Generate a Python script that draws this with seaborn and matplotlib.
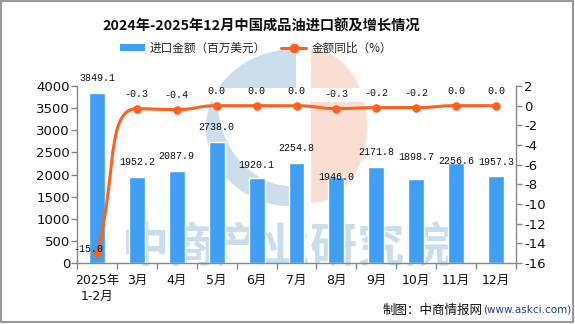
import numpy as np
import pandas as pd
import matplotlib
matplotlib.use("Agg")
import matplotlib.pyplot as plt
import seaborn as sns
from matplotlib.patches import Polygon, Rectangle
from matplotlib.lines import Line2D
from matplotlib.transforms import Affine2D

# ---------------- data ----------------
categories = ["2025年\n1-2月", "3月", "4月", "5月", "6月", "7月", "8月", "9月", "10月", "11月", "12月"]
import_value = [3849.1, 1952.2, 2087.9, 2738.0, 1920.1, 2254.8, 1946.0, 2171.8, 1898.7, 2256.6, 1957.3]
yoy_change = [-15.0, -0.3, -0.4, 0.0, 0.0, 0.0, -0.3, -0.2, -0.2, 0.0, 0.0]
left_ticks = [0, 500, 1000, 1500, 2000, 2500, 3000, 3500, 4000]
right_ticks = [-16, -14, -12, -10, -8, -6, -4, -2, 0, 2]

title = "2024年-2025年12月中国成品油进口额及增长情况"
bar_name = "进口金额（百万美元）"
line_name = "金额同比（%）"

BAR_C = "#409ef3"
LINE_C = "#ff5f1f"
W, H, DPI = 575, 324, 100

sns.set_theme(style="white")
plt.rcParams["font.family"] = ["DejaVu Sans", "Noto Sans CJK SC"]
plt.rcParams["axes.unicode_minus"] = True

fig = plt.figure(figsize=(W / DPI, H / DPI), dpi=DPI)
px = Affine2D().scale(1 / DPI, -1 / DPI).translate(0, H / DPI) + fig.dpi_scale_trans

# ---------------- watermark (behind) ----------------
def ell_x(y, cy, a, b):
    return a * np.sqrt(np.clip(1 - ((y - cy) / b) ** 2, 0, 1))

wm_blue = (0.80, 0.87, 0.92)
wm_sal = (0.98, 0.87, 0.83)
cx, cy, a, b = 296, 128, 90, 79
ys = np.linspace(cy - b, 88, 40)
top_blue = [(cx - ell_x(y, cy, a, b), y) for y in ys] + [(cx, 88), (cx, cy - b)]
ys2 = np.linspace(102, cy + b, 60)
hy = np.linspace(187, 102, 40)
bot_blue = [(cx - ell_x(y, cy, a, b), y) for y in ys2] + [(cx, cy + b), (cx, 187)] + \
           [(cx - ell_x(y, 102, 78, 85), y) for y in hy]
scx, scy, sa, sb = 311, 126, 56, 77
ys3 = np.linspace(scy - sb, 88, 40)
top_sal = [(scx, scy - sb)] + [(scx + ell_x(y, scy, sa, sb), y) for y in ys3] + [(scx, 88)]
ys4 = np.linspace(102, scy + sb, 60)
bot_sal = [(scx, 102)] + [(scx + ell_x(y, scy, sa, sb), y) for y in ys4] + [(scx, scy + sb)]
for poly, col in [(top_blue, wm_blue), (bot_blue, wm_blue), (top_sal, wm_sal), (bot_sal, wm_sal)]:
    fig.patches.append(Polygon(poly, closed=True, transform=px, facecolor=col,
                               edgecolor="none", zorder=-5))
fig.text(287, 247, "中商产业研究院", transform=px, ha="center", va="center",
         fontsize=34, fontweight="bold", color="#c9deec", family=["Noto Sans CJK SC"], zorder=-4)

# ---------------- axes ----------------
ax = fig.add_axes([77 / W, 1 - 263 / H, (516 - 77) / W, (263 - 86) / H])
ax.patch.set_alpha(0)
df = pd.DataFrame({"cat": categories, "val": import_value, "yoy": yoy_change})
sns.barplot(data=df, x="cat", y="val", color=BAR_C, saturation=1, width=0.4, ax=ax, zorder=2)
ax.set_ylim(0, 4000)
ax.set_xlim(-0.5, len(categories) - 0.5)
ax.set_yticks(left_ticks)
ax.set_yticklabels([str(t) for t in left_ticks], fontsize=9.5, color="#111111")
ax.set_xlabel("")
ax.set_ylabel("")
ax.set_xticks(np.arange(-0.5, len(categories), 1.0))
ax.set_xticklabels([])
ax.set_xticks(np.arange(len(categories)), minor=True)
ax.set_xticklabels(categories, minor=True, fontsize=9, color="#111111", linespacing=1.25)
ax.tick_params(axis="x", which="major", length=4, width=1, color="#888888", direction="out", bottom=True)
ax.tick_params(axis="x", which="minor", length=0, pad=8, bottom=True)
ax.tick_params(axis="y", length=4, width=1, color="#888888", direction="out", pad=1, left=True)
for s in ["top", "right"]:
    ax.spines[s].set_visible(False)
for s in ["left", "bottom"]:
    ax.spines[s].set_color("#888888")
    ax.spines[s].set_linewidth(1)

# bar labels
bar_off = [10, 10, 10, 10, 8, 10, -5, 10, 17, -3, 9]
for i, (v, o) in enumerate(zip(import_value, bar_off)):
    ax.annotate(f"{v:.1f}", (i, v), xytext=(0, o), textcoords="offset pixels",
                ha="center", va="bottom", fontsize=7.2, family=["Liberation Mono"],
                color="#111111", zorder=5)

# ---------------- secondary axis ----------------
ax2 = ax.twinx()
ax2.set_zorder(1)
ax2.patch.set_visible(False)
ax2.set_ylim(-16, 2)
ax2.set_yticks(right_ticks)
ax2.set_yticklabels([f"{t}" for t in right_ticks], fontsize=9.5, color="#111111")
ax2.tick_params(axis="y", length=4, width=1, color="#888888", direction="out", pad=2, right=True)
for s in ["top", "left", "bottom"]:
    ax2.spines[s].set_visible(False)
ax2.spines["right"].set_color("#888888")
ax2.spines["right"].set_linewidth(1)
ax2.grid(False)
ax.grid(False)

# smooth line (ECharts-like clamped bezier) computed in pixel space
xs = np.arange(len(yoy_change), dtype=float)
sx, sy = 40.0, 9.84
P = np.column_stack([xs * sx, np.array(yoy_change) * sy])
n = len(P)
smooth = 0.5
cp_next = np.zeros_like(P)
cp_prev = np.zeros_like(P)
for i in range(n):
    p = P[i]
    prv = P[i - 1] if i > 0 else P[i]
    nxt = P[i + 1] if i < n - 1 else P[i]
    v = nxt - prv
    l0 = np.linalg.norm(p - prv)
    l1 = np.linalg.norm(nxt - p)
    ratio = l1 / (l0 + l1) if (l0 + l1) > 0 else 0.5
    cn = p + v * smooth * ratio
    cn = np.minimum(cn, np.maximum(nxt, p)); cn = np.maximum(cn, np.minimum(nxt, p))
    cpv = p - v * smooth * (1 - ratio)
    if l1 > 0 and l0 > 0:
        vv = cn - p
        cpv = p - vv * l0 / l1
    cpv = np.minimum(cpv, np.maximum(prv, p)); cpv = np.maximum(cpv, np.minimum(prv, p))
    if l0 > 0 and l1 > 0:
        vv = p - cpv
        cn = p + vv * l1 / l0
        cn = np.minimum(cn, np.maximum(nxt, p)); cn = np.maximum(cn, np.minimum(nxt, p))
    cp_next[i] = cn
    cp_prev[i] = cpv
curve = []
t = np.linspace(0, 1, 30)[:, None]
for i in range(n - 1):
    b0, b1, b2, b3 = P[i], cp_next[i], cp_prev[i + 1], P[i + 1]
    seg = (1 - t) ** 3 * b0 + 3 * (1 - t) ** 2 * t * b1 + 3 * (1 - t) * t ** 2 * b2 + t ** 3 * b3
    curve.append(seg)
curve = np.vstack(curve)
ax2.plot(curve[:, 0] / sx, curve[:, 1] / sy, color=LINE_C, lw=2.2, solid_capstyle="round", zorder=3)
sns.scatterplot(x=xs, y=yoy_change, ax=ax2, color=LINE_C, s=38, edgecolor=LINE_C, linewidth=0, zorder=4, legend=False)
ax2.set_xlim(-0.5, len(categories) - 0.5)

for i, v in enumerate(yoy_change):
    if i == 0:
        ax2.annotate(f"{v:.1f}", (i, v), xytext=(-9, 4), textcoords="offset pixels",
                     ha="center", va="center", fontsize=7.2, family=["Liberation Mono"], color="#111111", zorder=6)
    else:
        ax2.annotate(f"{v:.1f}", (i, v), xytext=(0, 10), textcoords="offset pixels",
                     ha="center", va="bottom", fontsize=7.2, family=["Liberation Mono"], color="#111111", zorder=6)

# ---------------- title / legend / footer ----------------
fig.text(261, 27, title, transform=px, ha="center", va="center", fontsize=10.3,
         fontweight="bold", family=["Noto Sans CJK SC"], color="#111111")
handles = [Rectangle((0, 0), 1, 1, facecolor=BAR_C, edgecolor="none"),
           Line2D([0], [0], color=LINE_C, lw=2.2, marker="o", markersize=6)]
fig.legend(handles, [bar_name, line_name], loc="center", bbox_to_anchor=(256 / W, 1 - 48 / H),
           ncol=2, frameon=False, prop={"family": ["Noto Sans CJK SC"], "size": 8.4},
           handlelength=2.1, handleheight=0.6, handletextpad=0.45, columnspacing=1.3, borderpad=0)
fig.text(483, 310, "制图：中商情报网", transform=px, ha="right", va="center", fontsize=9,
         family=["Noto Sans CJK SC"], color="#111111")
fig.text(483, 310, "(www.askci.com)", transform=px, ha="left", va="center", fontsize=7.5,
         family=["DejaVu Sans"], color="#1d3f9a")

fig.patches.append(Rectangle((0.5, 0.5), 572, 321.5, transform=px, fill=False,
                             edgecolor="#9a9a9a", lw=1.5, zorder=10))

fig.savefig("out.png", dpi=DPI, facecolor="white")
